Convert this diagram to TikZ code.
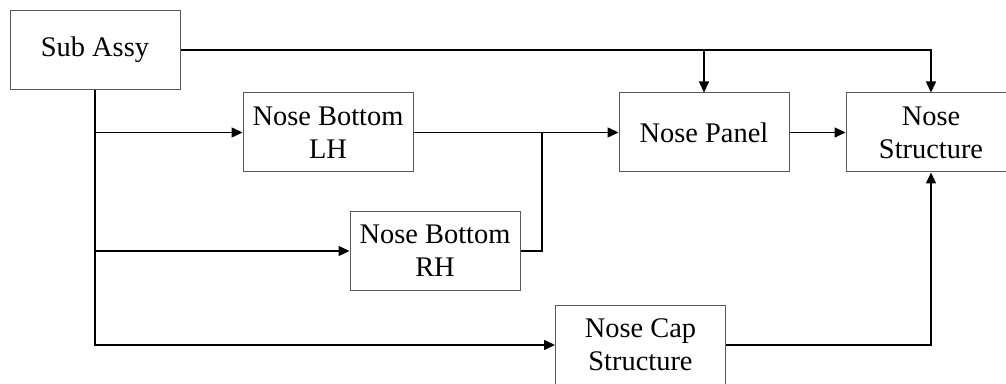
\documentclass[tikz,border=0pt]{standalone}
\usepackage{fontspec}
\setmainfont{Liberation Serif}
\usepackage{tikz}
\usetikzlibrary{arrows.meta, positioning}

\begin{document}
\begin{tikzpicture}[x=0.5pt, y=-0.5pt, line width=0.75pt, >={Triangle[length=5.5pt, width=5pt]},
  font=\fontsize{14.2}{16.5}\selectfont,
  block/.style={draw=black!65, line width=0.5pt, align=center, minimum width=85pt, minimum height=39.5pt, inner sep=0pt}]
  \clip (0,0) rectangle (1006,384);
  % parts
  \node[block] (sub)    at (95,50)     {Sub Assy};
  \node[block] (lh)     at (328,132.5) {Nose Bottom\\LH};
  \node[block] (rh)     at (435,251)   {Nose Bottom\\RH};
  \node[block] (panel)  at (704,132.5) {Nose Panel};
  \node[block] (struct) at (931,132.5) {Nose\\Structure};
  \node[block] (cap)    at (640.5,345) {Nose Cap\\Structure};
  \coordinate (merge) at (542,132.5);
  % top feed
  \draw[->] (sub.east) -| (struct.north);
  \draw[->] (sub.east -| panel.north) -- (panel.north);
  % left feed
  \draw[->] (sub.south) |- (cap.west);
  \draw[->] (sub.south |- lh.west) -- (lh.west);
  \draw[->] (sub.south |- rh.west) -- (rh.west);
  % into panel and structure
  \draw[->] (lh.east) -- (panel.west);
  \draw (rh.east) -| (merge);
  \draw[->] (panel.east) -- (struct.west);
  \draw[->] (cap.east) -| (struct.south);
\end{tikzpicture}
\end{document}
